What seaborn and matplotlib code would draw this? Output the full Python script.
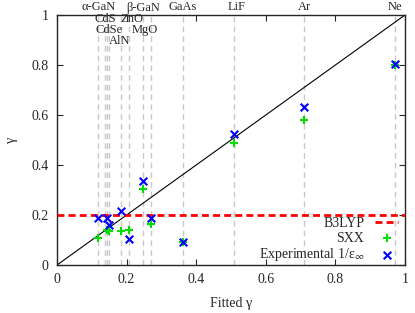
import numpy as np
import pandas as pd
import matplotlib
matplotlib.use("Agg")
import matplotlib.pyplot as plt
import matplotlib.transforms as mtransforms
import seaborn as sns

# =====================================
# Data
# =====================================
materials = ["α-GaN", "", "CdS", "CdSe", "AlN", "ZnO", "MgO", "β-GaN",
             "GaAs", "LiF", "Ar", "Ne"]
fitted_gamma = [0.119, 0.138, 0.145, 0.150, 0.183, 0.206, 0.246, 0.269,
                0.361, 0.509, 0.710, 0.971]
sxx_gamma = [0.107, np.nan, 0.140, 0.135, 0.137, 0.141, 0.305, 0.163,
             0.091, 0.487, 0.580, 0.800]
expt_gamma = [0.187, np.nan, 0.187, 0.160, 0.216, 0.104, 0.337, 0.187,
              0.091, 0.523, 0.631, 0.805]
b3lyp_gamma = 0.2

# label placement at the top (x in data units, row index)
label_x = [0.119, None, 0.140, 0.151, 0.179, 0.214, 0.252, 0.248,
           0.361, 0.515, 0.710, 0.970]
label_row = [0, None, 1, 2, 3, 1, 2, 0, 0, 0, 0, 0]
row_y = [1.030, 0.984, 0.940, 0.896]

df = pd.DataFrame({"material": materials, "fitted": fitted_gamma,
                   "sxx": sxx_gamma, "expt": expt_gamma})

# =====================================
# Style
# =====================================
sns.set_style("ticks")
plt.rcParams["font.family"] = ["Liberation Serif", "DejaVu Serif"]
plt.rcParams["mathtext.fontset"] = "stix"
plt.rcParams["font.size"] = 10
plt.rcParams["xtick.direction"] = "in"
plt.rcParams["ytick.direction"] = "in"

fig = plt.figure(figsize=(4.15, 3.13), dpi=100)
ax = fig.add_axes([57 / 415, 1 - 265 / 313, 348 / 415, 250 / 313])

# vertical guide lines
for g in df["fitted"]:
    ax.axvline(g, color="#c8c8c8", lw=1, ls=(0, (4, 3)), zorder=0)

# diagonal y = x
sns.lineplot(x=[0, 1], y=[0, 1], color="black", lw=0.8, ax=ax)

# B3LYP
ax.axhline(b3lyp_gamma, color="#ff0000", lw=2, ls=(0, (2.5, 1.5)),
           label="B3LYP", zorder=3)

sns.scatterplot(data=df, x="fitted", y="sxx", marker="+", color="#00e000",
                s=36, linewidth=1.5, label="SXX", ax=ax, zorder=4)
sns.scatterplot(data=df, x="fitted", y="expt", marker="x", color="#0000ff",
                s=30, linewidth=1.5, label="Experimental 1/ε$_{\\infty}$",
                ax=ax, zorder=5)

# material labels
trans = mtransforms.blended_transform_factory(ax.transData, ax.transAxes)
for name, lx, lr in zip(materials, label_x, label_row):
    if not name:
        continue
    ax.text(lx, row_y[lr], name, transform=trans, ha="center", va="center",
            fontsize=9, clip_on=False)

ax.set_xlim(0, 1)
ax.set_ylim(0, 1)
ax.set_xticks(np.arange(0, 1.01, 0.2))
ax.set_yticks(np.arange(0, 1.01, 0.2))
ax.set_xticklabels(["0", "0.2", "0.4", "0.6", "0.8", "1"])
ax.set_yticklabels(["0", "0.2", "0.4", "0.6", "0.8", "1"])
ax.tick_params(top=True, right=True, length=4, width=0.8, pad=6)
for sp in ax.spines.values():
    sp.set_visible(True)
    sp.set_linewidth(1.0)
ax.set_xlabel("Fitted γ", labelpad=8)
ax.set_ylabel("γ", labelpad=10)

ax.legend(loc="lower right", bbox_to_anchor=(0.995, -0.015), frameon=False,
          markerfirst=False, handlelength=1.6, handletextpad=0.8,
          labelspacing=0.12, borderaxespad=0.0, fontsize=10)

fig.savefig("out.png", dpi=100)
